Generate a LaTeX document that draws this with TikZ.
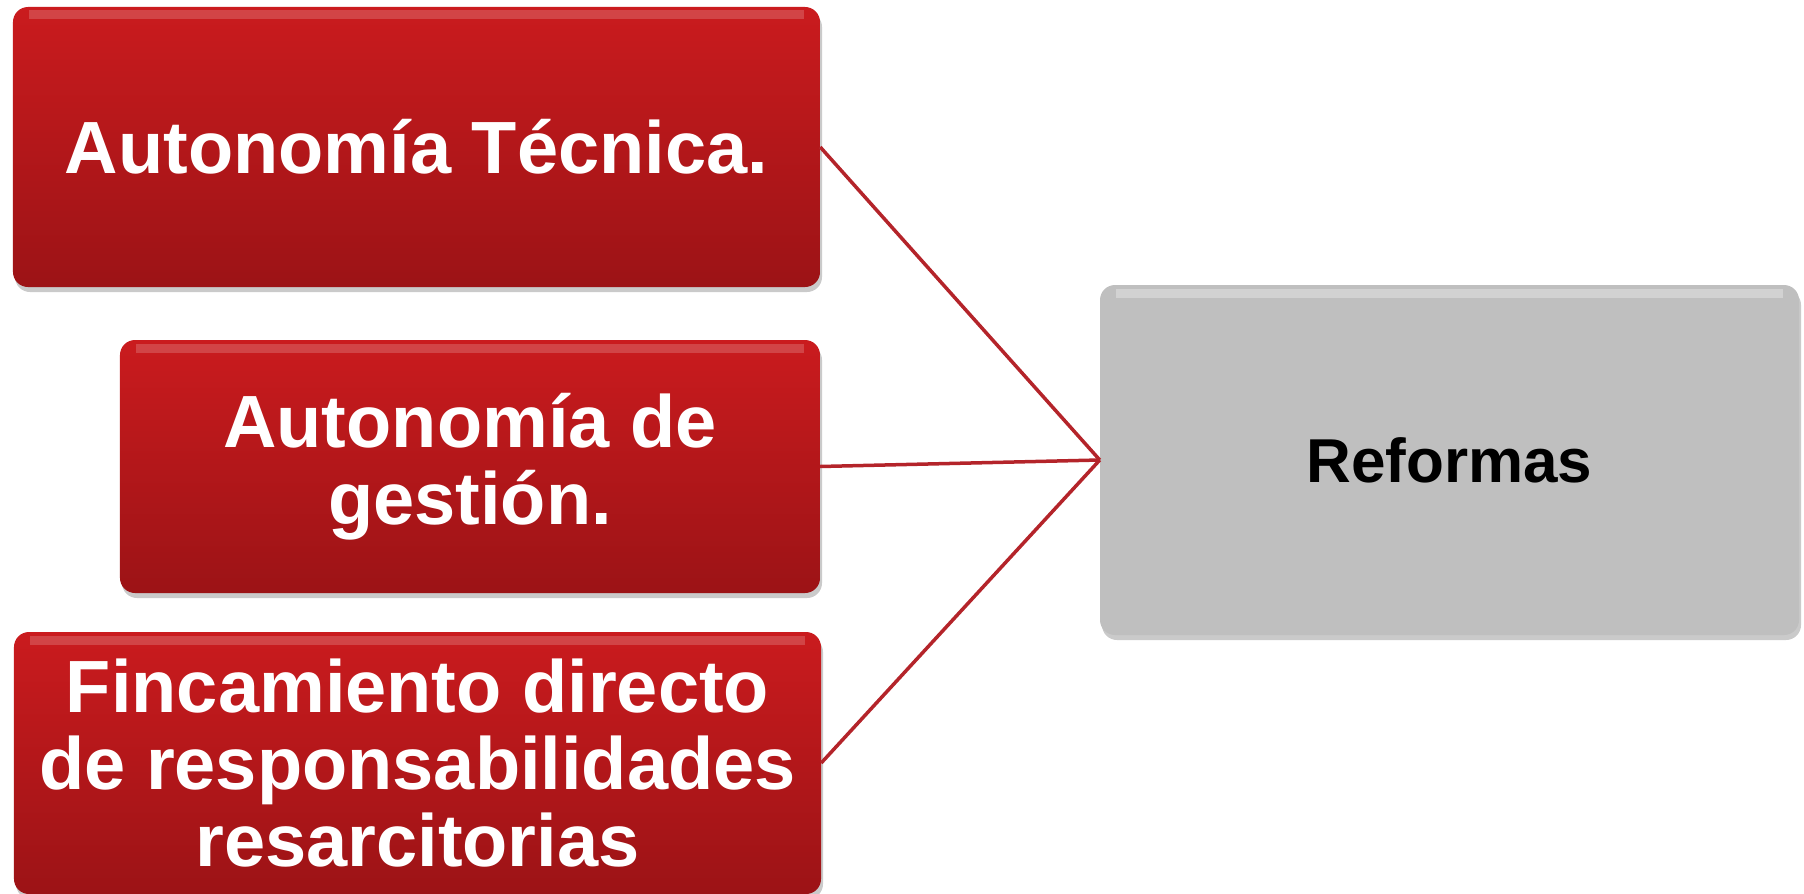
\documentclass[tikz,border=0pt]{standalone}
\usepackage{fontspec}
\setmainfont{Liberation Sans}
\usetikzlibrary{shadows}
\definecolor{redtop}{RGB}{202,27,30}
\definecolor{redbot}{RGB}{156,19,22}
\definecolor{graybox}{RGB}{191,191,191}
\definecolor{connred}{RGB}{180,36,42}
\tikzset{
  redbox/.style={rounded corners=15bp, top color=redtop, bottom color=redbot,
    draw=none, inner sep=0pt, align=center, text=white,
    font=\fontsize{74bp}{77bp}\selectfont\bfseries,
    drop shadow={shadow xshift=2bp, shadow yshift=-5bp, opacity=0.35, fill=black!60},
    path picture={
      \draw[white, opacity=0.18, line width=9bp]
        ([xshift=16bp,yshift=-8bp]path picture bounding box.north west) --
        ([xshift=-16bp,yshift=-8bp]path picture bounding box.north east);
    }},
  graybx/.style={rounded corners=15bp, fill=graybox, draw=none, inner sep=0pt,
    align=center, text=black,
    font=\fontsize{62bp}{66bp}\selectfont\bfseries,
    drop shadow={shadow xshift=2bp, shadow yshift=-5bp, opacity=0.35, fill=black!60},
    path picture={
      \draw[white, opacity=0.3, line width=9bp]
        ([xshift=16bp,yshift=-8bp]path picture bounding box.north west) --
        ([xshift=-16bp,yshift=-8bp]path picture bounding box.north east);
    }},
  conn/.style={draw=connred, line width=3.5bp}
}
\begin{document}
\begin{tikzpicture}[x=1bp,y=1bp]
\useasboundingbox (0,0) rectangle (1804,-894);
\node[redbox, minimum width=807bp, minimum height=280bp] (b1) at (416.5,-147) {Autonomía Técnica.};
\node[redbox, minimum width=700bp, minimum height=253bp] (b2) at (470,-466.5) {Autonomía de\\gestión.};
\node[redbox, minimum width=807bp, minimum height=262bp] (b3) at (417.5,-763) {Fincamiento directo\\de responsabilidades\\resarcitorias};
\node[graybx, minimum width=699bp, minimum height=350bp] (ref) at (1449.5,-460) {Reformas};
\draw[conn] (b1.east) -- (ref.west);
\draw[conn] (b2.east) -- (ref.west);
\draw[conn] (b3.east) -- (ref.west);
\end{tikzpicture}
\end{document}
